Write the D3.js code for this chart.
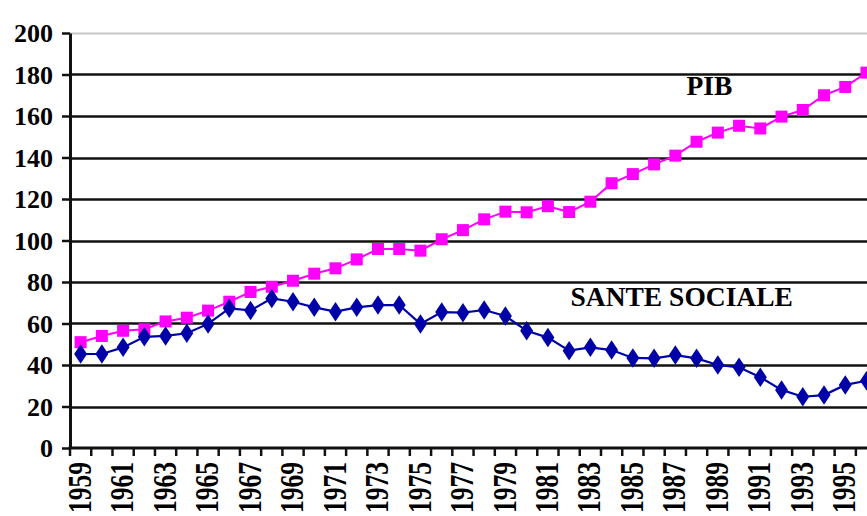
<!DOCTYPE html>
<html><head><meta charset="utf-8">
<script src="https://cdn.jsdelivr.net/npm/d3@7/dist/d3.min.js"></script>
<style>
html,body{margin:0;padding:0;background:#fff;overflow:hidden;}
svg{display:block;}
</style></head>
<body>
<svg id="chart" width="867" height="516"></svg>
<script>
const years = d3.range(1959, 1997);
const pib = [51,54,56.5,57.2,61,62.8,66.2,70.5,75.2,77.7,80.6,84,86.6,90.9,95.9,95.9,95.1,100.6,105,110.2,113.9,113.6,116.5,113.7,118.7,127.6,132,136.7,140.9,147.6,152,155.3,154,159.7,162.9,170,174,180.9];
const sante = [45.3,45.3,48.5,53.6,54,55.3,59.8,67.3,66.3,72.1,70.5,67.8,65.7,67.8,68.9,68.9,59.8,65.5,65.2,66.5,63.6,56.5,53.2,46.9,48.5,47.2,43.4,43.2,44.8,43.2,40,38.9,34.1,28,24.7,25.5,30.4,32.4];
const yTicks = [0,20,40,60,80,100,120,140,160,180,200];
const labelYears = years.filter(y => (y - 1959) % 2 === 0);
const seriesLabels = [{text:"PIB", year:1988.6, value:175}, {text:"SANTE SOCIALE", year:1987.3, value:73.3}];

const svg = d3.select("#chart");
const mLeft = 70, mTop = 33, mBottom = 448, step = 21.24;
const x = d3.scaleBand().domain(years).range([mLeft, mLeft + years.length * step]).padding(0);
const y = d3.scaleLinear().domain([0, 200]).range([mBottom, mTop]);
const cx = d => x(d) + x.bandwidth() / 2;
const fx = v => mLeft + (v - 1959 + 0.5) * step;
const serif = "'Liberation Serif', 'Times New Roman', serif";

// gridlines
const grid = svg.append("g");
grid.selectAll("line").data(yTicks.filter(t => t > 0)).join("line")
  .attr("x1", mLeft).attr("x2", 867)
  .attr("y1", d => Math.round(y(d)) + 0.5).attr("y2", d => Math.round(y(d)) + 0.5)
  .attr("stroke", d => d === 200 ? "#c8c8c8" : "#111")
  .attr("stroke-width", d => d === 200 ? 2 : 2.5);

// y axis
const yAxis = svg.append("g").attr("transform", `translate(${mLeft},0)`)
  .call(d3.axisLeft(y).tickValues(yTicks).tickSize(8).tickPadding(9).tickSizeOuter(0));
yAxis.select(".domain").attr("stroke", "#111").attr("stroke-width", 3);
yAxis.selectAll(".tick line").attr("stroke", "#111").attr("stroke-width", 2.5);
yAxis.selectAll(".tick text").attr("font-family", serif)
  .attr("font-weight", "bold").attr("font-size", 26).attr("fill", "#000").attr("dy", "0.34em");

// x axis
const xAxis = svg.append("g").attr("transform", `translate(0,${mBottom})`);
xAxis.append("line").attr("x1", mLeft - 1.5).attr("x2", 867).attr("y1", 0).attr("y2", 0)
  .attr("stroke", "#111").attr("stroke-width", 3);
xAxis.selectAll("line.tk").data(years).join("line").attr("class", "tk")
  .attr("x1", d => x(d)).attr("x2", d => x(d)).attr("y1", 0).attr("y2", 8)
  .attr("stroke", "#111").attr("stroke-width", 2.5);
const xl = svg.append("g").attr("transform", `translate(0,${mBottom})`)
  .call(d3.axisBottom(x).tickValues(labelYears).tickSize(0).tickFormat(d3.format("d")));
xl.select(".domain").remove();
xl.selectAll(".tick text")
  .attr("font-family", serif)
  .attr("font-weight", "bold").attr("font-size", 25.5).attr("fill", "#000")
  .attr("text-anchor", "end").attr("dy", "0.34em").attr("y", 0).attr("x", 0)
  .attr("transform", "translate(-1,14) rotate(-90) scale(1,1.28)");

// lines
const line = d3.line().x((d, i) => cx(years[i])).y(d => y(d));
svg.append("path").datum(pib).attr("d", line).attr("fill", "none")
  .attr("stroke", "#ff00ff").attr("stroke-width", 2);
svg.append("path").datum(sante).attr("d", line).attr("fill", "none")
  .attr("stroke", "#0000a8").attr("stroke-width", 2.2);

// markers
svg.append("g").selectAll("rect").data(pib).join("rect")
  .attr("x", (d, i) => cx(years[i]) - 6).attr("y", d => y(d) - 6)
  .attr("width", 12).attr("height", 12).attr("fill", "#ff00ff");
const diamond = d3.symbol().type(d3.symbolDiamond).size(110);
svg.append("g").selectAll("path").data(sante).join("path")
  .attr("transform", (d, i) => `translate(${cx(years[i])},${y(d)}) scale(1.15,1)`)
  .attr("d", diamond).attr("fill", "#0000a8");

// series labels
svg.append("g").selectAll("text").data(seriesLabels).join("text")
  .attr("x", d => fx(d.year)).attr("y", d => y(d.value))
  .attr("text-anchor", "middle").attr("dy", "0.35em")
  .attr("font-family", serif)
  .attr("font-weight", "bold").attr("font-size", 27.5).attr("fill", "#000")
  .text(d => d.text);
</script>
</body></html>
